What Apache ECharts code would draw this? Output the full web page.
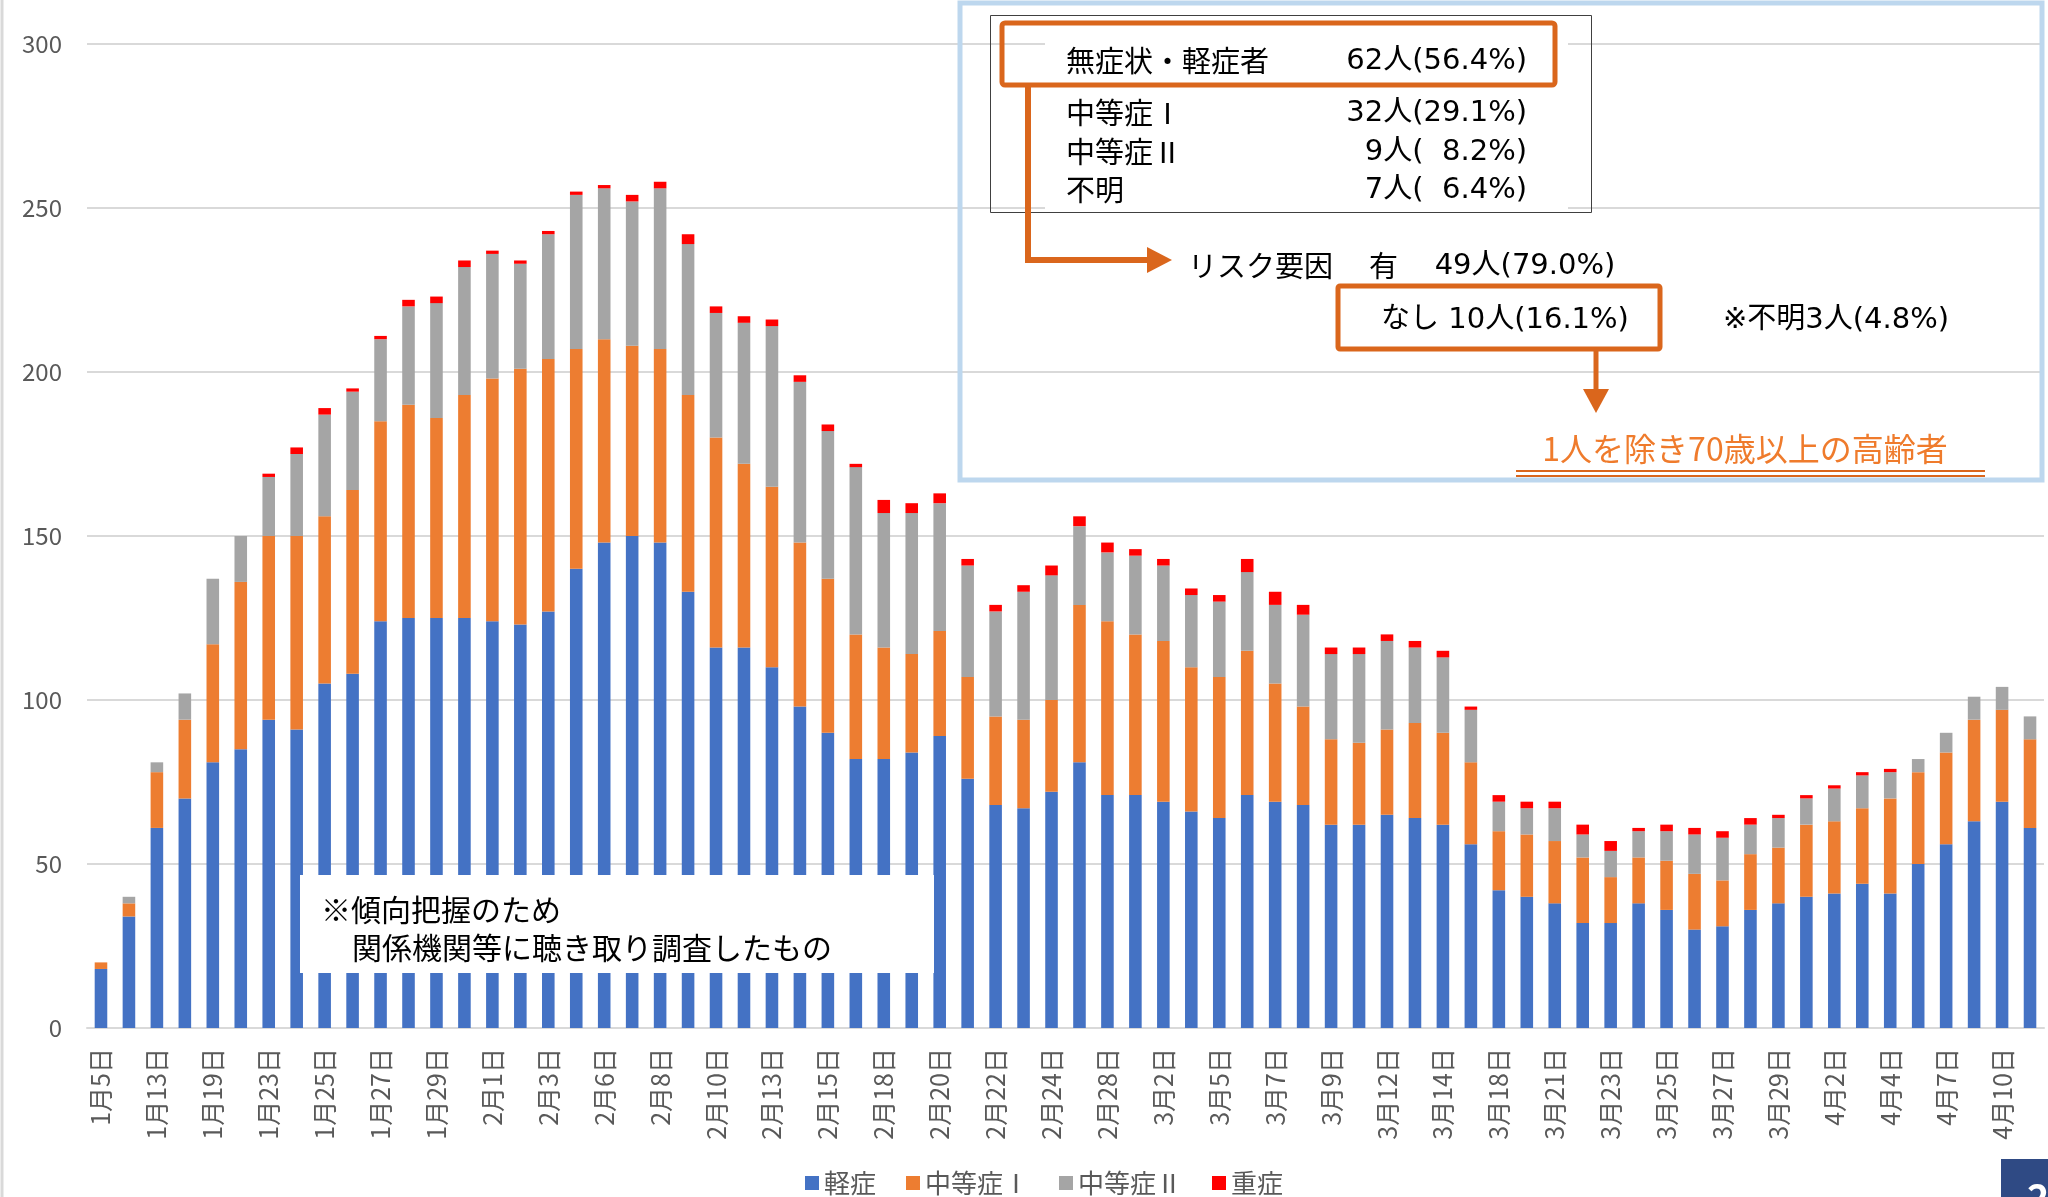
<!DOCTYPE html>
<html><head><meta charset="utf-8">
<script src="https://cdn.jsdelivr.net/npm/echarts@6/dist/echarts.min.js"></script>
<style>html,body{margin:0;padding:0;background:#fff}#c{width:2048px;height:1197px}</style>
</head><body><div id="c"></div>
<script>
const categories = ['1月5日','1月12日','1月13日','1月18日','1月19日','1月22日','1月23日','1月24日','1月25日','1月26日',
 '1月27日','1月28日','1月29日','1月31日','2月1日','2月2日','2月3日','2月4日','2月6日','2月7日',
 '2月8日','2月9日','2月10日','2月12日','2月13日','2月14日','2月15日','2月16日','2月18日','2月19日',
 '2月20日','2月21日','2月22日','2月23日','2月24日','2月27日','2月28日','3月1日','3月2日','3月4日',
 '3月5日','3月6日','3月7日','3月8日','3月9日','3月11日','3月12日','3月13日','3月14日','3月16日',
 '3月18日','3月20日','3月21日','3月22日','3月23日','3月24日','3月25日','3月26日','3月27日','3月28日',
 '3月29日','3月31日','4月2日','4月3日','4月4日','4月6日','4月7日','4月9日','4月10日','4月11日'];
const mild = [18,34,61,70,81,85,94,91,105,108,124,125,125,125,124,123,127,140,148,150,
 148,133,116,116,110,98,90,82,82,84,89,76,68,67,72,81,71,71,69,66,
 64,71,69,68,62,62,65,64,62,56,42,40,38,32,32,38,36,30,31,36,
 38,40,41,44,41,50,56,63,69,61];
const moderate1 = [2,4,17,24,36,51,56,59,51,56,61,65,61,68,74,78,77,67,62,58,
 59,60,64,56,55,50,47,38,34,30,32,31,27,27,28,48,53,49,49,44,
 43,44,36,30,26,25,26,29,28,25,18,19,19,20,14,14,15,17,14,17,
 17,22,22,23,29,28,28,31,28,27];
const moderate2 = [0,2,3,8,20,14,18,25,31,30,25,30,35,39,38,32,38,47,46,44,
 49,46,38,43,49,49,45,51,41,43,39,34,32,39,38,24,21,24,23,22,
 23,24,24,28,26,27,27,23,23,16,9,8,10,7,8,8,9,12,13,9,
 9,8,10,10,8,4,6,7,7,7];
const severe = [0,0,0,0,0,0,1,2,2,1,1,2,2,2,1,1,1,1,1,2,
 2,3,2,2,2,2,2,1,4,3,3,2,2,2,3,3,3,2,2,2,
 2,4,4,3,2,2,2,2,2,1,2,2,2,3,3,1,2,2,2,2,
 1,1,1,1,1,0,0,0,0,0];
const seriesNames = ['軽症','中等症Ⅰ','中等症Ⅱ','重症'];
const seriesColors = ['#4472C4','#ED7D31','#A5A5A5','#FF0000'];
const yTicks = {min:0, max:300, interval:50};

const FONT = '"Noto Sans CJK JP", "Noto Sans", sans-serif';
const AFONT = '"DejaVu Sans", "Noto Sans CJK JP", sans-serif';
const OR = '#DA661C';
const chart = echarts.init(document.getElementById('c'), null, {renderer:'canvas'});
const dataSets = [mild, moderate1, moderate2, severe];
const series = dataSets.map((d,i)=>({
  name: seriesNames[i], type:'bar', stack:'total', data:d, barWidth:'45%',
  itemStyle:{color:seriesColors[i]}, emphasis:{disabled:true}
}));
function txt(text,x,y,size,fill,align,fam){
  return {type:'text', z:110, style:{text:text, x:x, y:y, font:size+'px '+(fam||FONT), fill:fill||'#000', textAlign:align||'left', textVerticalAlign:'middle'}};
}
const graphic = [
  {type:'line', z:100, shape:{x1:2,y1:0,x2:2,y2:1197}, style:{stroke:'#d9d9d9', lineWidth:3}},
  // lower-left note box
  {type:'rect', z:100, shape:{x:300,y:875,width:634,height:98}, style:{fill:'#fff'}},
  txt('※傾向把握のため',321,910,30,'#000'),
  txt('関係機関等に聴き取り調査したもの',352,948,30,'#000'),
  // light blue frame
  {type:'rect', z:100, shape:{x:960,y:3,width:1082,height:477}, style:{fill:'none', stroke:'#BDD7EE', lineWidth:5}},
  // inner white text area and black box
  {type:'rect', z:101, shape:{x:1045,y:16,width:523,height:196}, style:{fill:'#fff'}},
  {type:'rect', z:102, shape:{x:990.5,y:15.5,width:601,height:197}, style:{fill:'none', stroke:'#404040', lineWidth:1}},
  {type:'rect', z:103, shape:{x:1002,y:23,width:553,height:62,r:3}, style:{fill:'none', stroke:OR, lineWidth:5}},
  txt('無症状・軽症者',1066,61,29), txt('62人(56.4%)',1527,61,29,'#000','right',AFONT),
  txt('中等症Ⅰ',1066,113,29), txt('32人(29.1%)',1527,113,29,'#000','right',AFONT),
  txt('中等症Ⅱ',1066,152,29), txt('9人(  8.2%)',1527,152,29,'#000','right',AFONT),
  txt('不明',1066,190,29), txt('7人(  6.4%)',1527,190,29,'#000','right',AFONT),
  // connector arrow
  {type:'polyline', z:104, shape:{points:[[1028,86],[1028,260],[1150,260]]}, style:{fill:'none', stroke:OR, lineWidth:6}},
  {type:'polygon', z:104, shape:{points:[[1147,247],[1172,260],[1147,273]]}, style:{fill:OR}},
  txt('リスク要因',1188,266,29), txt('有',1369,266,29), txt('49人(79.0%)',1525,266,29,'#000','center',AFONT),
  {type:'rect', z:103, shape:{x:1338,y:286,width:322,height:63,r:2}, style:{fill:'none', stroke:OR, lineWidth:5}},
  txt('なし 10人(16.1%)',1505,320,29,'#000','center',AFONT),
  txt('※不明3人(4.8%)',1836,320,29,'#000','center',AFONT),
  {type:'line', z:104, shape:{x1:1596,y1:349,x2:1596,y2:392}, style:{stroke:OR, lineWidth:5}},
  {type:'polygon', z:104, shape:{points:[[1583,389],[1609,389],[1596,413]]}, style:{fill:OR}},
  txt('1人を除き70歳以上の高齢者',1745,449,32,'#EF7B2C','center'),
  {type:'line', z:104, shape:{x1:1516,y1:471,x2:1985,y2:471}, style:{stroke:OR, lineWidth:2}},
  {type:'line', z:104, shape:{x1:1516,y1:476,x2:1985,y2:476}, style:{stroke:OR, lineWidth:2}},
  // page badge
  {type:'rect', z:100, shape:{x:2001,y:1159,width:47,height:38}, style:{fill:'#2F4A84'}},
  {type:'text', z:101, style:{text:'2', x:2027, y:1178, font:'bold 38px '+FONT, fill:'#fff', textAlign:'left', textVerticalAlign:'top'}}
];
chart.setOption({
  animation:false,
  backgroundColor:'#fff',
  grid:{left:87,right:4,top:44,bottom:169},
  legend:{data:seriesNames, left:800, top:1165, icon:'rect', itemWidth:14, itemHeight:14, itemGap:30,
    textStyle:{fontSize:26, color:'#595959', fontFamily:FONT}},
  xAxis:{type:'category', data:categories,
    axisLine:{lineStyle:{color:'#d9d9d9', width:2}},
    axisTick:{interval:0, length:9, lineStyle:{color:'#d9d9d9', width:2}},
    axisLabel:{interval:1, rotate:90, margin:20, fontSize:25, color:'#595959', fontFamily:FONT}},
  yAxis:{type:'value', min:yTicks.min, max:yTicks.max, interval:yTicks.interval,
    axisLine:{show:false}, axisTick:{show:false},
    axisLabel:{fontSize:24, color:'#595959', margin:25, fontFamily:FONT},
    splitLine:{lineStyle:{color:'#d9d9d9', width:2}}},
  series:series,
  graphic:graphic
});
</script></body></html>
